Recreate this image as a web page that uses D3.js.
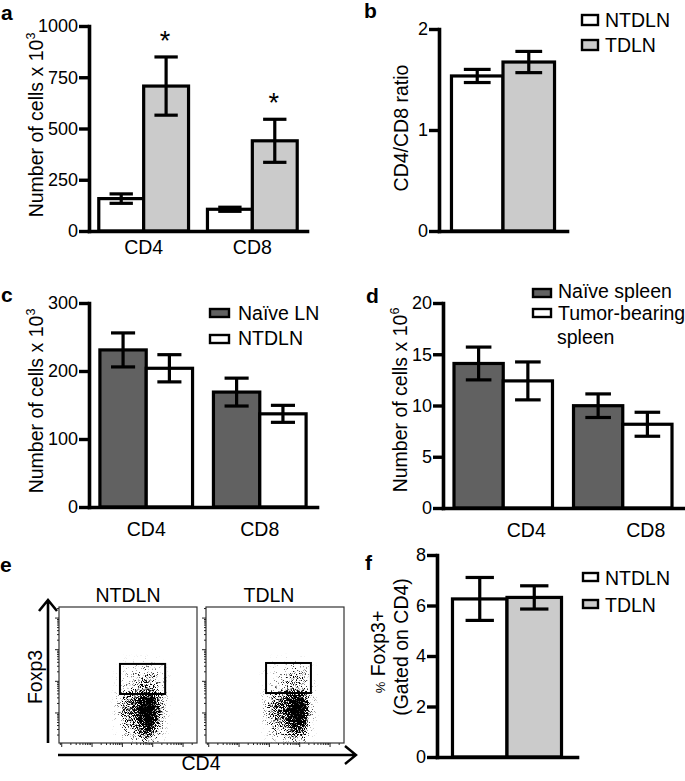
<!DOCTYPE html>
<html><head><meta charset="utf-8">
<script src="https://cdn.jsdelivr.net/npm/d3@7"></script>
<style>body{margin:0;background:#fff}svg{display:block}</style>
</head><body>
<svg id="fig" width="685" height="781"></svg>
<script>
// ---------- DATA ----------
const aCategories = ["CD4", "CD8"];
const aSeries = ["NTDLN", "TDLN"];
const aMeans = [[158, 707], [106, 440]];
const aSem = [[23, 142], [10, 105]];
const aTicks = [0, 250, 500, 750, 1000];

const bCategories = [""];
const bSeries = ["NTDLN", "TDLN"];
const bMeans = [[1.535, 1.673]];
const bSem = [[0.065, 0.105]];
const bTicks = [0, 1, 2];

const cCategories = ["CD4", "CD8"];
const cSeries = ["Naïve LN", "NTDLN"];
const cMeans = [[231, 204], [169, 137]];
const cSem = [[25, 20], [20.5, 12.5]];
const cTicks = [0, 100, 200, 300];

const dCategories = ["CD4", "CD8"];
const dSeries = ["Naïve spleen", "Tumor-bearing spleen"];
const dMeans = [[14.1, 12.4], [9.98, 8.17]];
const dSem = [[1.6, 1.85], [1.15, 1.17]];
const dTicks = [0, 5, 10, 15, 20];

const fCategories = [""];
const fSeries = ["NTDLN", "TDLN"];
const fMeans = [[6.26, 6.32]];
const fSem = [[0.85, 0.46]];
const fTicks = [0, 2, 4, 6, 8];

// flow cytometry (panel e): log10 bin edges and relative event density
const flowSamples = ["NTDLN", "TDLN"];
const flowCD4Edges = [1.75, 2.0, 2.25, 2.5, 2.75, 3.0, 3.25, 3.5];
const flowFoxp3Edges = [2.75, 2.5, 2.25, 2.0, 1.75, 1.5, 1.25, 1.0, 0.75, 0.5, 0.25, 0.0];
const flowDensityNTDLN = [
  [0.00, 0.03, 0.04, 0.06, 0.05, 0.03, 0.00],
  [0.03, 0.08, 0.13, 0.20, 0.24, 0.13, 0.05],
  [0.04, 0.13, 0.20, 0.36, 0.40, 0.23, 0.08],
  [0.04, 0.15, 0.23, 0.36, 0.42, 0.25, 0.09],
  [0.08, 0.27, 0.38, 0.55, 0.65, 0.42, 0.10],
  [0.15, 0.45, 0.55, 0.80, 0.95, 0.70, 0.15],
  [0.15, 0.50, 0.60, 0.90, 1.00, 0.75, 0.15],
  [0.12, 0.45, 0.55, 0.85, 1.00, 0.70, 0.12],
  [0.08, 0.35, 0.45, 0.70, 0.90, 0.55, 0.08],
  [0.05, 0.20, 0.30, 0.50, 0.70, 0.35, 0.05],
  [0.02, 0.08, 0.12, 0.25, 0.35, 0.15, 0.02]
];
const flowDensityTDLN = [
  [0.00, 0.03, 0.04, 0.06, 0.08, 0.04, 0.00],
  [0.03, 0.07, 0.10, 0.18, 0.28, 0.15, 0.05],
  [0.04, 0.10, 0.16, 0.28, 0.40, 0.25, 0.08],
  [0.04, 0.13, 0.19, 0.28, 0.38, 0.23, 0.08],
  [0.08, 0.27, 0.35, 0.50, 0.65, 0.48, 0.10],
  [0.15, 0.45, 0.55, 0.70, 0.95, 0.85, 0.18],
  [0.15, 0.50, 0.55, 0.75, 1.00, 0.95, 0.20],
  [0.12, 0.45, 0.50, 0.70, 1.00, 0.90, 0.15],
  [0.08, 0.35, 0.40, 0.55, 0.85, 0.70, 0.10],
  [0.05, 0.20, 0.25, 0.40, 0.60, 0.45, 0.06],
  [0.02, 0.08, 0.10, 0.20, 0.30, 0.20, 0.02]
];
// gates: [cd4 min, cd4 max, foxp3 min, foxp3 max] in log10 units
const flowGates = [[1.92, 3.41, 1.60, 2.55], [1.89, 3.37, 1.63, 2.58]];

// ---------- DRAWING ----------
const FONT = "'Liberation Sans', Arial, Helvetica, sans-serif";
const svg = d3.select("#fig").style("font-family", FONT);

function letter(t, x, y) {
  svg.append("text").attr("x", x).attr("y", y).attr("font-size", 21)
    .attr("font-weight", "bold").text(t);
}

function rotLabel(x, y, text, sup, size) {
  const t = svg.append("text").attr("transform", `translate(${x},${y}) rotate(-90)`)
    .attr("text-anchor", "middle").attr("font-size", size || 19.5).text(text);
  if (sup) t.append("tspan").attr("font-size", 12.5).attr("dy", -8).text(sup);
  return t;
}

function legend(items, fills, L) {
  items.forEach((name, i) => {
    svg.append("rect").attr("x", L.x).attr("y", L.ys[i]).attr("width", L.w).attr("height", L.h)
      .attr("fill", fills[i]).attr("stroke", "#000").attr("stroke-width", 2.4);
    let lines = [name];
    if (name.length > 14) { const k = name.lastIndexOf(" "); lines = [name.slice(0, k), name.slice(k + 1)]; }
    lines.forEach((ln, j) => {
      svg.append("text").attr("x", L.tx - (j ? 1 : 0)).attr("y", L.bs[i] + j * 24)
        .attr("font-size", 19.5).text(ln);
    });
  });
}

function barPanel(cfg) {
  const g = svg.append("g");
  const y = d3.scaleLinear().domain([0, cfg.max]).range([cfg.y0, cfg.y1]);
  const x0 = d3.scaleBand().domain(cfg.cats).range([cfg.xa, cfg.xb])
    .paddingInner(cfg.pi).paddingOuter(cfg.po);
  const x1 = d3.scaleBand().domain(cfg.series).range([0, x0.bandwidth()]);
  const fill = d3.scaleOrdinal().domain(cfg.series).range(cfg.fills);

  const rows = [];
  cfg.cats.forEach((c, i) => cfg.series.forEach((s, j) =>
    rows.push({ c, s, m: cfg.means[i][j], e: cfg.sem[i][j] })));

  g.selectAll("rect.bar").data(rows).join("rect").attr("class", "bar")
    .attr("x", d => x0(d.c) + x1(d.s)).attr("width", x1.bandwidth())
    .attr("y", d => y(d.m)).attr("height", d => y(0) - y(d.m))
    .attr("fill", d => fill(d.s)).attr("stroke", "#000").attr("stroke-width", 3.2);

  const cap = x1.bandwidth() * 0.26;
  const eb = g.selectAll("g.err").data(rows).join("g").attr("class", "err")
    .attr("transform", d => `translate(${x0(d.c) + x1(d.s) + x1.bandwidth() / 2},0)`)
    .attr("stroke", "#000").attr("stroke-width", 3.2);
  eb.append("line").attr("y1", d => y(d.m - d.e)).attr("y2", d => y(d.m + d.e));
  eb.append("line").attr("x1", -cap).attr("x2", cap).attr("y1", d => y(d.m + d.e)).attr("y2", d => y(d.m + d.e));
  eb.append("line").attr("x1", -cap).attr("x2", cap).attr("y1", d => y(d.m - d.e)).attr("y2", d => y(d.m - d.e));

  if (cfg.stars) {
    const starRows = rows.filter(d => d.s === cfg.series[cfg.series.length - 1]);
    g.selectAll("text.star").data(starRows).join("text").attr("class", "star")
      .attr("x", d => x0(d.c) + x1(d.s) + x1.bandwidth() / 2 - 1)
      .attr("y", d => y(d.m + d.e) - 7).attr("text-anchor", "middle")
      .attr("font-size", 27).text("*");
  }

  const ya = g.append("g").attr("transform", `translate(${cfg.xa},0)`)
    .call(d3.axisLeft(y).tickValues(cfg.ticks).tickSize(10).tickSizeOuter(0).tickPadding(1).tickFormat(d3.format("d")));
  ya.select(".domain").attr("stroke-width", 3.6).attr("stroke-linecap", "square");
  ya.selectAll(".tick line").attr("stroke-width", 3.4);
  ya.selectAll(".tick text").attr("font-size", 18).attr("font-family", FONT).attr("fill", "#000");

  const xa = g.append("g").attr("transform", `translate(0,${cfg.y0})`)
    .call(d3.axisBottom(x0).tickSize(0).tickSizeOuter(0).tickPadding(cfg.labPad));
  xa.select(".domain").attr("stroke-width", 3.6).attr("stroke-linecap", "square");
  xa.selectAll(".tick text").attr("font-size", 19.5).attr("font-family", FONT).attr("fill", "#000")
    .attr("dx", cfg.labDx || 0);
  return { x0, x1, y };
}

// panel a
letter("a", 1, 20);
barPanel({ cats: aCategories, series: aSeries, means: aMeans, sem: aSem, ticks: aTicks, max: 1000,
  xa: 89, xb: 307, y0: 231, y1: 26, pi: 0.174, po: 0.09, fills: ["#ffffff", "#cbcbcb"], labPad: 9, stars: true });
rotLabel(43, 125, "Number of cells x 10", "3");

// panel b
letter("b", 364, 18);
barPanel({ cats: bCategories, series: bSeries, means: bMeans, sem: bSem, ticks: bTicks, max: 2,
  xa: 439, xb: 567, y0: 231, y1: 29, pi: 0, po: 0.121, fills: ["#ffffff", "#cbcbcb"], labPad: 9 });
rotLabel(408, 128, "CD4/CD8 ratio");
legend(bSeries, ["#ffffff", "#cbcbcb"], { x: 582, ys: [15, 40], w: 16, h: 10, tx: 605, bs: [27, 52] });

// panel c
letter("c", 1, 302);
barPanel({ cats: cCategories, series: cSeries, means: cMeans, sem: cSem, ticks: cTicks, max: 300,
  xa: 89, xb: 317, y0: 507, y1: 303, pi: 0.184, po: 0.096, fills: ["#616161", "#ffffff"], labPad: 15 });
rotLabel(43, 401, "Number of cells x 10", "3");
legend(cSeries, ["#616161", "#ffffff"], { x: 210, ys: [309, 335], w: 19, h: 8, tx: 238, bs: [320, 345] });

// panel d
letter("d", 366, 303);
barPanel({ cats: dCategories, series: dSeries, means: dMeans, sem: dSem, ticks: dTicks, max: 20,
  xa: 443, xb: 683, y0: 508, y1: 303, pi: 0.176, po: 0.092, fills: ["#616161", "#ffffff"], labPad: 15, labDx: 23 });
rotLabel(407, 400, "Number of cells x 10", "6");
legend(dSeries, ["#616161", "#ffffff"], { x: 533, ys: [289, 309], w: 18, h: 8, tx: 558, bs: [298, 320] });

// panel f
letter("f", 365, 570);
barPanel({ cats: fCategories, series: fSeries, means: fMeans, sem: fSem, ticks: fTicks, max: 8,
  xa: 437, xb: 577, y0: 757, y1: 555, pi: 0, po: 0.142, fills: ["#ffffff", "#cbcbcb"], labPad: 9 });
{
  const t = svg.append("text").attr("transform", "translate(385,652) rotate(-90)")
    .attr("text-anchor", "middle").attr("font-size", 19.5);
  t.append("tspan").attr("font-size", 13).text("%");
  t.append("tspan").text(" Foxp3+");
  rotLabel(408, 647, "(Gated on CD4)");
}
legend(fSeries, ["#ffffff", "#cbcbcb"], { x: 583, ys: [573, 600], w: 15, h: 8, tx: 605, bs: [585, 612] });

// panel e : flow plots
letter("e", 0, 572);
const defs = svg.append("defs");
const filt = defs.append("filter").attr("id", "speckle").attr("filterUnits", "userSpaceOnUse")
  .attr("x", 40).attr("y", 590).attr("width", 320).attr("height", 170)
  .attr("color-interpolation-filters", "sRGB");
filt.append("feGaussianBlur").attr("in", "SourceGraphic").attr("stdDeviation", 2.4).attr("result", "blur");
filt.append("feTurbulence").attr("type", "fractalNoise").attr("baseFrequency", 1.1)
  .attr("numOctaves", 2).attr("seed", 7).attr("result", "noise");
filt.append("feColorMatrix").attr("in", "noise").attr("type", "matrix")
  .attr("values", "0 0 0 0 0  0 0 0 0 0  0 0 0 0 0  2.6 0 0 0 -0.8").attr("result", "na");
filt.append("feComposite").attr("in", "blur").attr("in2", "na").attr("operator", "arithmetic")
  .attr("k1", 0).attr("k2", 4).attr("k3", 3).attr("k4", -3.0);

const flowDens = [flowDensityNTDLN, flowDensityTDLN];
const boxW = 138, boxTop = 607, boxBot = 743, titleDx = [0, -6];
flowSamples.forEach((name, k) => {
  const bx = 59 + k * 147;
  const xs = d3.scaleLog().domain([Math.pow(10, -0.09), Math.pow(10, 4.46)]).range([bx, bx + boxW]);
  const ys = d3.scaleLog().domain([Math.pow(10, 0.05), Math.pow(10, 4.35)]).range([boxBot, boxTop]);
  const cid = "clip" + k;
  defs.append("clipPath").attr("id", cid).append("rect")
    .attr("x", bx).attr("y", boxTop).attr("width", boxW).attr("height", boxBot - boxTop);

  const cells = [];
  flowDens[k].forEach((row, r) => row.forEach((v, c) => cells.push({
    x0: flowCD4Edges[c], x1: flowCD4Edges[c + 1], yt: flowFoxp3Edges[r], yb: flowFoxp3Edges[r + 1], v })));
  const g = svg.append("g").attr("clip-path", `url(#${cid})`).append("g").attr("filter", "url(#speckle)");
  g.selectAll("rect").data(cells).join("rect")
    .attr("x", d => xs(Math.pow(10, d.x0))).attr("width", d => xs(Math.pow(10, d.x1)) - xs(Math.pow(10, d.x0)))
    .attr("y", d => ys(Math.pow(10, d.yt))).attr("height", d => ys(Math.pow(10, d.yb)) - ys(Math.pow(10, d.yt)))
    .attr("fill", "#000").attr("fill-opacity", d => d.v);

  svg.append("rect").attr("x", bx).attr("y", boxTop).attr("width", boxW).attr("height", boxBot - boxTop)
    .attr("fill", "none").attr("stroke", "#333").attr("stroke-width", 1.2);

  // log ticks
  const tk = svg.append("g").attr("stroke", "#222").attr("stroke-width", 1);
  xs.ticks().forEach(v => {
    const maj = Math.abs(Math.log10(v) - Math.round(Math.log10(v))) < 1e-6;
    tk.append("line").attr("x1", xs(v)).attr("x2", xs(v)).attr("y1", boxBot).attr("y2", boxBot + (maj ? 4 : 2));
  });
  ys.ticks().forEach(v => {
    const maj = Math.abs(Math.log10(v) - Math.round(Math.log10(v))) < 1e-6;
    tk.append("line").attr("y1", ys(v)).attr("y2", ys(v)).attr("x1", bx).attr("x2", bx - (maj ? 4 : 2));
  });

  const gt = flowGates[k];
  svg.append("rect").attr("x", xs(Math.pow(10, gt[0]))).attr("width", xs(Math.pow(10, gt[1])) - xs(Math.pow(10, gt[0])))
    .attr("y", ys(Math.pow(10, gt[3]))).attr("height", ys(Math.pow(10, gt[2])) - ys(Math.pow(10, gt[3])))
    .attr("fill", "none").attr("stroke", "#000").attr("stroke-width", 2);

  svg.append("text").attr("x", bx + boxW / 2 + titleDx[k]).attr("y", 602).attr("text-anchor", "middle")
    .attr("font-size", 19.5).text(name);
});
// axis arrows
svg.append("path").attr("d", "M48,743V600M39,611L48,600L57,611").attr("fill", "none")
  .attr("stroke", "#000").attr("stroke-width", 2.6);
svg.append("path").attr("d", "M58,755H356M345,746L356,755L345,764").attr("fill", "none")
  .attr("stroke", "#000").attr("stroke-width", 2.4);
rotLabel(42, 677, "Foxp3");
svg.append("text").attr("x", 201).attr("y", 770).attr("text-anchor", "middle").attr("font-size", 19.5).text("CD4");
</script>
</body></html>
